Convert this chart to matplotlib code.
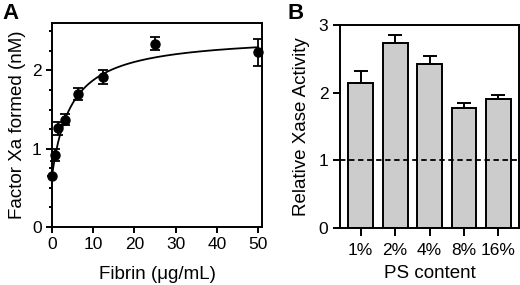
import numpy as np
import matplotlib.pyplot as plt

plt.rcParams['font.family'] = ['Liberation Sans', 'DejaVu Sans']

# panel A: factor Xa formed vs fibrin
fibrin = [0, 0.78, 1.56, 3.125, 6.25, 12.5, 25, 50]
xa_formed = [0.65, 0.92, 1.26, 1.37, 1.70, 1.91, 2.34, 2.23]
xa_err = [0.0, 0.08, 0.08, 0.07, 0.08, 0.09, 0.08, 0.17]

# hyperbolic fit parameters (y0 + Bmax*x/(Kd+x))
fit_y0 = 0.65
fit_bmax = 1.80
fit_kd = 4.7

# panel B: relative Xase activity vs PS content
ps_labels = ['1%', '2%', '4%', '8%', '16%']
activity = [2.15, 2.74, 2.42, 1.77, 1.90]
activity_err = [0.17, 0.11, 0.13, 0.08, 0.06]

fig = plt.figure(figsize=(5.2, 2.85), dpi=100)
axA = fig.add_axes([0.1, 0.2035, 0.404, 0.7145])
axB = fig.add_axes([0.654, 0.2, 0.344, 0.712])

lw = 1.4
for ax in (axA, axB):
    for s in ax.spines.values():
        s.set_linewidth(lw)
    ax.tick_params(width=lw, length=4, labelsize=12.5, direction='out')

xs = np.linspace(0, 50, 300)
axA.plot(xs, fit_y0 + fit_bmax * xs / (fit_kd + xs), color='black', lw=1.3)
axA.errorbar(fibrin, xa_formed, yerr=xa_err, fmt='o', color='black', ms=6.5,
             capsize=3.5, elinewidth=1.3, capthick=1.3, clip_on=False, zorder=3)
axA.set_xlim(0, 51)
axA.set_ylim(0, 2.6)
axA.set_xticks([0, 10, 20, 30, 40, 50])
axA.set_yticks([0, 1, 2])
axA.set_yticks(np.arange(0.25, 2.6, 0.25), minor=True)
axA.tick_params(which='minor', width=lw, length=2.5)
axA.set_xlabel('Fibrin (\u03bcg/mL)', fontsize=13.5, labelpad=10)
axA.set_ylabel('Factor Xa formed (nM)', fontsize=13.5, labelpad=4)

pos = np.arange(len(ps_labels))
axB.bar(pos, activity, width=0.72, color='#cccccc', edgecolor='black', lw=lw,
        yerr=[np.zeros(len(activity)), activity_err],
        error_kw=dict(elinewidth=lw, capsize=5, capthick=lw))
axB.axhline(1, color='black', ls=(0, (3, 2)), lw=1.3)
axB.set_xlim(-0.6, 4.6)
axB.set_ylim(0, 3)
axB.set_xticks(pos, ps_labels)
axB.set_yticks([0, 1, 2, 3])
axB.tick_params(axis='x', length=6, pad=5)
axB.tick_params(axis='y', length=5)
axB.set_xlabel('PS content', fontsize=13.5, labelpad=5)
axB.set_ylabel('Relative Xase Activity', fontsize=13.5, labelpad=6)

fig.text(0.005, 0.99, 'A', fontsize=16, fontweight='bold', va='top')
fig.text(0.553, 0.99, 'B', fontsize=16, fontweight='bold', va='top')

fig.savefig('out.png', dpi=100)
